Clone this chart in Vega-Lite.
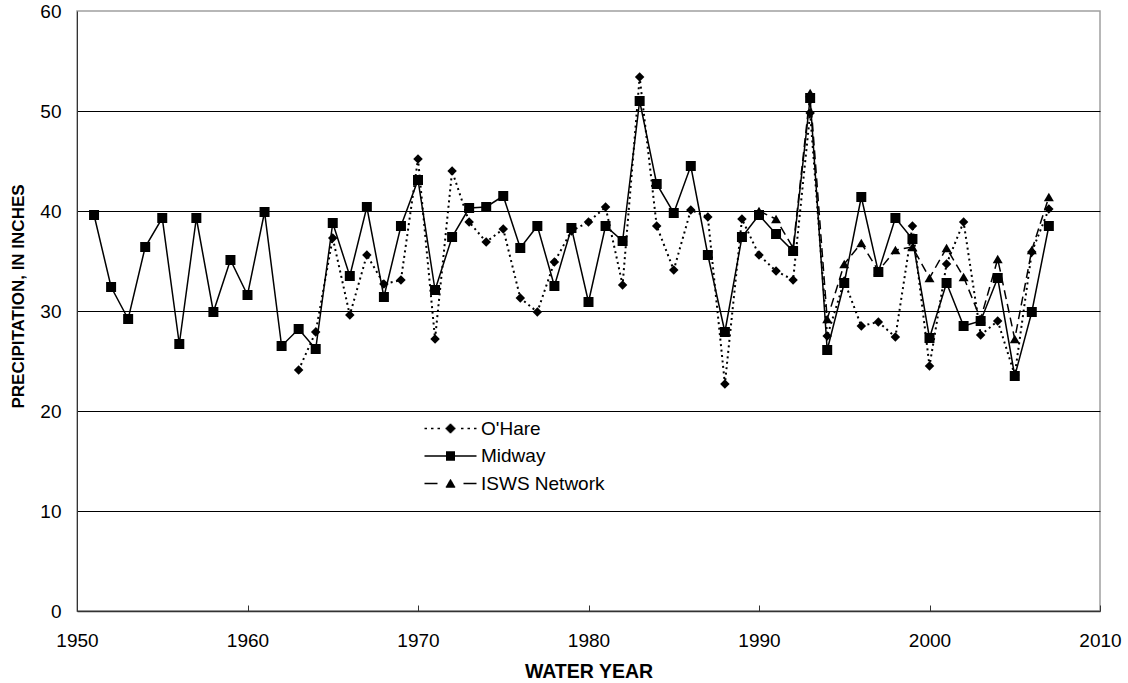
{
  "$schema": "https://vega.github.io/schema/vega-lite/v6.json",
  "width": 1023,
  "height": 600,
  "autosize": {"type": "none"},
  "padding": {"left": 77, "top": 11, "right": 28, "bottom": 72},
  "background": "white",
  "config": {
    "view": {"stroke": "#a0a0a0", "strokeWidth": 1.5},
    "font": "Liberation Sans",
    "axis": {
      "labelFont": "Liberation Sans",
      "titleFont": "Liberation Sans",
      "labelColor": "black",
      "titleColor": "black",
      "labelFontSize": 19,
      "domainColor": "#333333"
    }
  },
  "data": {
    "values": [
      {"year": 1963, "series": "O'Hare", "p": 24.1},
      {"year": 1964, "series": "O'Hare", "p": 27.9},
      {"year": 1965, "series": "O'Hare", "p": 37.3},
      {"year": 1966, "series": "O'Hare", "p": 29.6},
      {"year": 1967, "series": "O'Hare", "p": 35.6},
      {"year": 1968, "series": "O'Hare", "p": 32.7},
      {"year": 1969, "series": "O'Hare", "p": 33.1},
      {"year": 1970, "series": "O'Hare", "p": 45.2},
      {"year": 1971, "series": "O'Hare", "p": 27.2},
      {"year": 1972, "series": "O'Hare", "p": 44.0},
      {"year": 1973, "series": "O'Hare", "p": 38.9},
      {"year": 1974, "series": "O'Hare", "p": 36.9},
      {"year": 1975, "series": "O'Hare", "p": 38.2},
      {"year": 1976, "series": "O'Hare", "p": 31.3},
      {"year": 1977, "series": "O'Hare", "p": 29.9},
      {"year": 1978, "series": "O'Hare", "p": 34.9},
      {"year": 1979, "series": "O'Hare", "p": 38.0},
      {"year": 1980, "series": "O'Hare", "p": 38.9},
      {"year": 1981, "series": "O'Hare", "p": 40.4},
      {"year": 1982, "series": "O'Hare", "p": 32.6},
      {"year": 1983, "series": "O'Hare", "p": 53.4},
      {"year": 1984, "series": "O'Hare", "p": 38.5},
      {"year": 1985, "series": "O'Hare", "p": 34.1},
      {"year": 1986, "series": "O'Hare", "p": 40.1},
      {"year": 1987, "series": "O'Hare", "p": 39.4},
      {"year": 1988, "series": "O'Hare", "p": 22.7},
      {"year": 1989, "series": "O'Hare", "p": 39.2},
      {"year": 1990, "series": "O'Hare", "p": 35.6},
      {"year": 1991, "series": "O'Hare", "p": 34.0},
      {"year": 1992, "series": "O'Hare", "p": 33.1},
      {"year": 1993, "series": "O'Hare", "p": 49.8},
      {"year": 1994, "series": "O'Hare", "p": 27.5},
      {"year": 1995, "series": "O'Hare", "p": 33.0},
      {"year": 1996, "series": "O'Hare", "p": 28.5},
      {"year": 1997, "series": "O'Hare", "p": 28.9},
      {"year": 1998, "series": "O'Hare", "p": 27.4},
      {"year": 1999, "series": "O'Hare", "p": 38.5},
      {"year": 2000, "series": "O'Hare", "p": 24.5},
      {"year": 2001, "series": "O'Hare", "p": 34.7},
      {"year": 2002, "series": "O'Hare", "p": 38.9},
      {"year": 2003, "series": "O'Hare", "p": 27.6},
      {"year": 2004, "series": "O'Hare", "p": 29.0},
      {"year": 2005, "series": "O'Hare", "p": 23.6},
      {"year": 2006, "series": "O'Hare", "p": 35.9},
      {"year": 2007, "series": "O'Hare", "p": 40.2},
      {"year": 1951, "series": "Midway", "p": 39.6},
      {"year": 1952, "series": "Midway", "p": 32.4},
      {"year": 1953, "series": "Midway", "p": 29.2},
      {"year": 1954, "series": "Midway", "p": 36.4},
      {"year": 1955, "series": "Midway", "p": 39.3},
      {"year": 1956, "series": "Midway", "p": 26.7},
      {"year": 1957, "series": "Midway", "p": 39.3},
      {"year": 1958, "series": "Midway", "p": 29.9},
      {"year": 1959, "series": "Midway", "p": 35.1},
      {"year": 1960, "series": "Midway", "p": 31.6},
      {"year": 1961, "series": "Midway", "p": 39.9},
      {"year": 1962, "series": "Midway", "p": 26.5},
      {"year": 1963, "series": "Midway", "p": 28.2},
      {"year": 1964, "series": "Midway", "p": 26.2},
      {"year": 1965, "series": "Midway", "p": 38.8},
      {"year": 1966, "series": "Midway", "p": 33.5},
      {"year": 1967, "series": "Midway", "p": 40.4},
      {"year": 1968, "series": "Midway", "p": 31.4},
      {"year": 1969, "series": "Midway", "p": 38.5},
      {"year": 1970, "series": "Midway", "p": 43.1},
      {"year": 1971, "series": "Midway", "p": 32.1},
      {"year": 1972, "series": "Midway", "p": 37.4},
      {"year": 1973, "series": "Midway", "p": 40.3},
      {"year": 1974, "series": "Midway", "p": 40.4},
      {"year": 1975, "series": "Midway", "p": 41.5},
      {"year": 1976, "series": "Midway", "p": 36.3},
      {"year": 1977, "series": "Midway", "p": 38.5},
      {"year": 1978, "series": "Midway", "p": 32.5},
      {"year": 1979, "series": "Midway", "p": 38.3},
      {"year": 1980, "series": "Midway", "p": 30.9},
      {"year": 1981, "series": "Midway", "p": 38.5},
      {"year": 1982, "series": "Midway", "p": 37.0},
      {"year": 1983, "series": "Midway", "p": 51.0},
      {"year": 1984, "series": "Midway", "p": 42.7},
      {"year": 1985, "series": "Midway", "p": 39.8},
      {"year": 1986, "series": "Midway", "p": 44.5},
      {"year": 1987, "series": "Midway", "p": 35.6},
      {"year": 1988, "series": "Midway", "p": 27.9},
      {"year": 1989, "series": "Midway", "p": 37.4},
      {"year": 1990, "series": "Midway", "p": 39.6},
      {"year": 1991, "series": "Midway", "p": 37.7},
      {"year": 1992, "series": "Midway", "p": 36.0},
      {"year": 1993, "series": "Midway", "p": 51.3},
      {"year": 1994, "series": "Midway", "p": 26.1},
      {"year": 1995, "series": "Midway", "p": 32.8},
      {"year": 1996, "series": "Midway", "p": 41.4},
      {"year": 1997, "series": "Midway", "p": 33.9},
      {"year": 1998, "series": "Midway", "p": 39.3},
      {"year": 1999, "series": "Midway", "p": 37.2},
      {"year": 2000, "series": "Midway", "p": 27.3},
      {"year": 2001, "series": "Midway", "p": 32.8},
      {"year": 2002, "series": "Midway", "p": 28.5},
      {"year": 2003, "series": "Midway", "p": 29.0},
      {"year": 2004, "series": "Midway", "p": 33.3},
      {"year": 2005, "series": "Midway", "p": 23.5},
      {"year": 2006, "series": "Midway", "p": 29.9},
      {"year": 2007, "series": "Midway", "p": 38.5},
      {"year": 1990, "series": "ISWS Network", "p": 40.0},
      {"year": 1991, "series": "ISWS Network", "p": 39.2},
      {"year": 1992, "series": "ISWS Network", "p": 36.3},
      {"year": 1993, "series": "ISWS Network", "p": 51.8},
      {"year": 1994, "series": "ISWS Network", "p": 29.2},
      {"year": 1995, "series": "ISWS Network", "p": 34.7},
      {"year": 1996, "series": "ISWS Network", "p": 36.8},
      {"year": 1997, "series": "ISWS Network", "p": 34.0},
      {"year": 1998, "series": "ISWS Network", "p": 36.1},
      {"year": 1999, "series": "ISWS Network", "p": 36.4},
      {"year": 2000, "series": "ISWS Network", "p": 33.3},
      {"year": 2001, "series": "ISWS Network", "p": 36.3},
      {"year": 2002, "series": "ISWS Network", "p": 33.4},
      {"year": 2003, "series": "ISWS Network", "p": 29.2},
      {"year": 2004, "series": "ISWS Network", "p": 35.2},
      {"year": 2005, "series": "ISWS Network", "p": 27.2},
      {"year": 2006, "series": "ISWS Network", "p": 36.1},
      {"year": 2007, "series": "ISWS Network", "p": 41.4}
    ]
  },
  "encoding": {
    "x": {
      "field": "year",
      "type": "quantitative",
      "scale": {"domain": [1950, 2010], "nice": false, "zero": false},
      "axis": {
        "title": "WATER YEAR",
        "titleFontSize": 19.5,
        "titleFontWeight": "bold",
        "titleBaseline": "alphabetic",
        "titleY": 66,
        "values": [1950, 1960, 1970, 1980, 1990, 2000, 2010],
        "format": "d",
        "grid": false,
        "labelFlush": false,
        "labelBaseline": "alphabetic",
        "tickSize": -6,
        "tickColor": "#333333",
        "labelPadding": 41,
        "domainWidth": 1.5
      }
    },
    "y": {
      "field": "p",
      "type": "quantitative",
      "scale": {"domain": [0, 60], "nice": false},
      "axis": {
        "title": "PRECIPITATION, IN INCHES",
        "titleFontSize": 17,
        "titleFontWeight": "bold",
        "titleX": -50,
        "titleY": 285,
        "values": [0, 10, 20, 30, 40, 50, 60],
        "ticks": false,
        "labelPadding": 16,
        "grid": true,
        "gridColor": "black",
        "gridWidth": 1,
        "gridOpacity": {"condition": {"test": "datum.value == 0 || datum.value == 60", "value": 0}, "value": 1},
        "domainWidth": 1
      }
    }
  },
  "layer": [
    {
      "transform": [{"filter": {"field": "series", "equal": "O'Hare"}}],
      "mark": {"type": "line", "color": "black", "strokeWidth": 2, "strokeDash": [2, 3.5]},
      "encoding": {}
    },
    {
      "transform": [{"filter": {"field": "series", "equal": "O'Hare"}}],
      "mark": {"type": "point", "filled": true, "color": "black", "opacity": 1, "size": 90, "shape": "diamond"},
      "encoding": {}
    },
    {
      "transform": [{"filter": {"field": "series", "equal": "Midway"}}],
      "mark": {"type": "line", "color": "black", "strokeWidth": 1.5},
      "encoding": {}
    },
    {
      "transform": [{"filter": {"field": "series", "equal": "Midway"}}],
      "mark": {"type": "point", "filled": true, "color": "black", "opacity": 1, "size": 100, "shape": "square"},
      "encoding": {}
    },
    {
      "transform": [{"filter": {"field": "series", "equal": "ISWS Network"}}],
      "mark": {"type": "line", "color": "black", "strokeWidth": 1.5, "strokeDash": [9, 5]},
      "encoding": {}
    },
    {
      "transform": [{"filter": {"field": "series", "equal": "ISWS Network"}}],
      "mark": {"type": "point", "filled": true, "color": "black", "opacity": 1, "size": 100, "shape": "triangle-up"},
      "encoding": {}
    },
    {
      "mark": {"type": "point", "filled": false, "color": "black", "opacity": 0, "strokeWidth": 1.5},
      "encoding": {
        "shape": {
          "field": "series",
          "type": "nominal",
          "scale": {
            "domain": ["O'Hare", "Midway", "ISWS Network"],
            "range": [
              "M-26,0h2.5M-19.5,0h2.5M-13,0h2.5M10.5,0h2.5M17,0h2.5M23.5,0h2.5M-1,-4H1M-2,-3H2M-3,-2H3M-4,-1H4M-5,0H5M-4,1H4M-3,2H3M-2,3H2M-1,4H1",
              "M-26,0H26M-4.5,-4H4.5M-4.5,-2.7H4.5M-4.5,-1.3H4.5M-4.5,0H4.5M-4.5,1.3H4.5M-4.5,2.7H4.5M-4.5,4H4.5",
              "M-26,0h13M13,0h13M-0.6,-3.5H0.6M-1.2,-2.5H1.2M-1.8,-1.5H1.8M-2.4,-0.5H2.4M-2.9,0.5H2.9M-3.5,1.5H3.5M-4.1,2.5H4.1M-4.7,3.5H4.7"
            ]
          },
          "legend": {
            "orient": "none",
            "legendX": 364,
            "legendY": 408,
            "title": null,
            "direction": "vertical",
            "padding": 0,
            "labelFont": "Liberation Sans",
            "labelFontSize": 19,
            "labelColor": "black",
            "symbolSize": 4,
            "labelOffset": 21,
            "rowPadding": 7.5,
            "symbolStrokeColor": "black",
            "symbolStrokeWidth": 1.5,
            "symbolOpacity": 1
          }
        }
      }
    }
  ]
}
